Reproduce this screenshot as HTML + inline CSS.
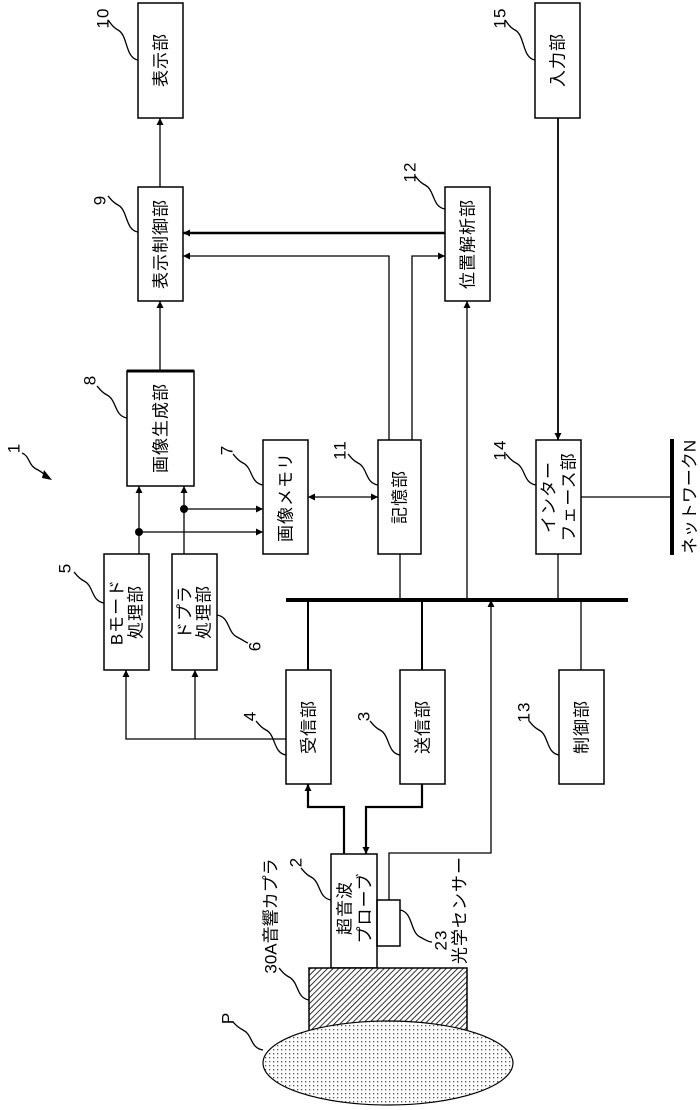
<!DOCTYPE html>
<html><head><meta charset="utf-8"><style>
html,body{margin:0;padding:0;background:#fff;}
svg{display:block;}
text{font-family:"Liberation Sans","Noto Sans CJK JP",sans-serif;fill:#000;}
</style></head><body>
<svg width="700" height="1110" viewBox="0 0 700 1110" xmlns="http://www.w3.org/2000/svg">
<defs>
<marker id="a" viewBox="0 0 10 10" refX="10" refY="5" markerWidth="7" markerHeight="7" orient="auto-start-reverse" markerUnits="userSpaceOnUse"><path d="M0,0L10,5L0,10z" fill="#000"/></marker>
<pattern id="hatch" width="4" height="4" patternUnits="userSpaceOnUse" patternTransform="rotate(45)"><rect width="4" height="4" fill="#fff"/><line x1="0" y1="0" x2="0" y2="4" stroke="#000" stroke-width="1.6"/></pattern>
<pattern id="dots" width="4" height="4" patternUnits="userSpaceOnUse"><rect width="4" height="4" fill="#fff"/><rect x="1" y="1" width="1.3" height="1.3" fill="#555"/></pattern>
</defs>
<g fill="none" stroke="#000" stroke-width="1.5">
<rect x="138" y="3" width="45" height="115"/>
<rect x="535" y="3" width="45" height="115"/>
<rect x="138" y="187" width="45" height="114"/>
<rect x="445" y="187" width="45" height="114"/>
<rect x="127" y="371" width="67" height="115"/>
<line x1="127" y1="371" x2="194" y2="371" stroke-width="3"/>
<rect x="263" y="440" width="45" height="114"/>
<rect x="378" y="440" width="43" height="114"/>
<rect x="536" y="440" width="45" height="114"/>
<rect x="104" y="554" width="45" height="116"/>
<rect x="172" y="554" width="45" height="116"/>
<rect x="286" y="670" width="45" height="114"/>
<rect x="400" y="670" width="45" height="114"/>
<rect x="559" y="670" width="45" height="114"/>
<rect x="331" y="854" width="46" height="114"/>
<rect x="377" y="900" width="23" height="46"/>
</g>
<rect x="309" y="968" width="158" height="64" fill="url(#hatch)" stroke="#000" stroke-width="1.5"/>
<ellipse cx="388" cy="1063" rx="125" ry="42" fill="url(#dots)" stroke="#000" stroke-width="1.2"/>

<g fill="none" stroke="#000" stroke-width="1.3">
<line x1="160" y1="187" x2="160" y2="118" marker-end="url(#a)"/>
<line x1="160" y1="371" x2="160" y2="301" marker-end="url(#a)"/>
<line x1="445" y1="233" x2="183" y2="233" stroke-width="2.5" marker-end="url(#a)"/>
<polyline points="389,440 389,256 183,256" marker-end="url(#a)"/>
<polyline points="412,440 412,256 445,256" marker-end="url(#a)"/>
<line x1="558" y1="118" x2="558" y2="440" stroke-width="1.8" marker-end="url(#a)"/>
<line x1="581" y1="497" x2="672" y2="497"/>
<line x1="672" y1="439" x2="672" y2="555" stroke-width="4"/>
<line x1="308" y1="497" x2="378" y2="497" marker-start="url(#a)" marker-end="url(#a)"/>
<line x1="139" y1="554" x2="139" y2="486" marker-end="url(#a)"/>
<line x1="184" y1="554" x2="184" y2="486" marker-end="url(#a)"/>
<line x1="139" y1="532" x2="263" y2="532" marker-end="url(#a)"/>
<line x1="184" y1="509" x2="263" y2="509" marker-end="url(#a)"/>
<line x1="286" y1="600" x2="628" y2="600" stroke-width="4"/>
<line x1="308" y1="600" x2="308" y2="670" stroke-width="2"/>
<line x1="422" y1="600" x2="422" y2="670" stroke-width="2"/>
<line x1="581" y1="600" x2="581" y2="670"/>
<line x1="400" y1="554" x2="400" y2="600"/>
<line x1="558" y1="554" x2="558" y2="600"/>
<line x1="467" y1="600" x2="467" y2="301" marker-end="url(#a)"/>
<polyline points="286,739 126,739 126,670" marker-end="url(#a)"/>
<line x1="195" y1="739" x2="195" y2="670" marker-end="url(#a)"/>
<polyline points="344,854 344,807 308,807 308,784" stroke-width="2.2" marker-end="url(#a)"/>
<polyline points="422,784 422,807 366,807 366,854" stroke-width="2.2" marker-end="url(#a)"/>
<polyline points="389,900 389,853 491,853 491,600" marker-end="url(#a)"/>
<path d="M138,60 C125,58 128,35 118,30 C112,27 110,22 108,20"/>
<path d="M535,60 C522,58 525,35 515,30 C509,27 507,22 505,20"/>
<path d="M138,232 C125,230 128,210 118,205 C112,202 110,198 108,196"/>
<path d="M445,209 C432,207 435,190 425,185 C419,182 417,178 415,176"/>
<path d="M127,418 C114,416 117,400 107,395 C101,392 99,388 97,386"/>
<path d="M263,485 C250,483 253,468 243,463 C237,460 235,456 233,454"/>
<path d="M378,485 C365,483 368,468 358,463 C352,460 350,456 348,454"/>
<path d="M536,485 C523,483 526,468 516,463 C510,460 508,456 506,454"/>
<path d="M104,603 C91,601 94,586 84,581 C78,578 76,574 74,572"/>
<path d="M217,615 C230,617 227,632 237,637 C243,640 245,642 248,643"/>
<path d="M286,755 C273,753 276,735 266,730 C260,727 258,723 256,721"/>
<path d="M400,755 C387,753 390,735 380,730 C374,727 372,723 370,721"/>
<path d="M559,755 C546,753 549,735 539,730 C533,727 531,723 529,721"/>
<path d="M331,900 C318,898 321,882 311,877 C305,874 303,870 301,868"/>
<path d="M400,910 C413,912 410,932 420,937 C426,940 428,942 432,942"/>
<path d="M309,1000 C296,998 299,982 289,977 C283,974 281,970 279,968"/>
<path d="M263,1050 C250,1048 253,1035 243,1030 C237,1027 235,1024 233,1022"/>
<path d="M22,453 C30,456 28,466 38,470 C42,472 44,474 46,476"/>
</g>
<path d="M44,470 L52,480 L42,478z" fill="#000"/>
<g fill="#000">
<circle cx="139" cy="532" r="4"/><circle cx="184" cy="509" r="4"/>
</g>

<g font-size="17" text-anchor="middle" dominant-baseline="central" letter-spacing="1">
<text transform="translate(161,60) rotate(-90)">表示部</text>
<text transform="translate(558,60) rotate(-90)">入力部</text>
<text transform="translate(161,244) rotate(-90)">表示制御部</text>
<text transform="translate(468,244) rotate(-90)">位置解析部</text>
<text transform="translate(161,428) rotate(-90)">画像生成部</text>
<text transform="translate(286,497) rotate(-90)">画像メモリ</text>
<text transform="translate(400,497) rotate(-90)">記憶部</text>
<text transform="translate(549,497) rotate(-90)">インター</text>
<text transform="translate(569,497) rotate(-90)">フェース部</text>
<text transform="translate(117,612) rotate(-90)">Bモード</text>
<text transform="translate(136,612) rotate(-90)">処理部</text>
<text transform="translate(185,612) rotate(-90)">ドプラ</text>
<text transform="translate(204,612) rotate(-90)">処理部</text>
<text transform="translate(309,727) rotate(-90)">受信部</text>
<text transform="translate(423,727) rotate(-90)">送信部</text>
<text transform="translate(582,727) rotate(-90)">制御部</text>
<text transform="translate(345,908) rotate(-90)">超音波</text>
<text transform="translate(365,908) rotate(-90)">プローブ</text>
<text transform="translate(690,497) rotate(-90)" letter-spacing="0">ネットワークN</text>
<text transform="translate(271,916) rotate(-90)" letter-spacing="0">30A音響カプラ</text>
<text transform="translate(460,910) rotate(-90)">光学センサー</text>
<text transform="translate(441,940) rotate(-90)">23</text>
<text transform="translate(103,18) rotate(-90)">10</text>
<text transform="translate(500,18) rotate(-90)">15</text>
<text transform="translate(100,200) rotate(-90)">9</text>
<text transform="translate(410,172) rotate(-90)">12</text>
<text transform="translate(90,380) rotate(-90)">8</text>
<text transform="translate(14,448) rotate(-90)">1</text>
<text transform="translate(227,450) rotate(-90)">7</text>
<text transform="translate(340,450) rotate(-90)">11</text>
<text transform="translate(500,450) rotate(-90)">14</text>
<text transform="translate(65,568) rotate(-90)">5</text>
<text transform="translate(255,646) rotate(-90)">6</text>
<text transform="translate(250,716) rotate(-90)">4</text>
<text transform="translate(364,716) rotate(-90)">3</text>
<text transform="translate(524,712) rotate(-90)">13</text>
<text transform="translate(296,862) rotate(-90)">2</text>
<text transform="translate(228,1018) rotate(-90)">P</text>
</g>
</svg>
</body></html>
